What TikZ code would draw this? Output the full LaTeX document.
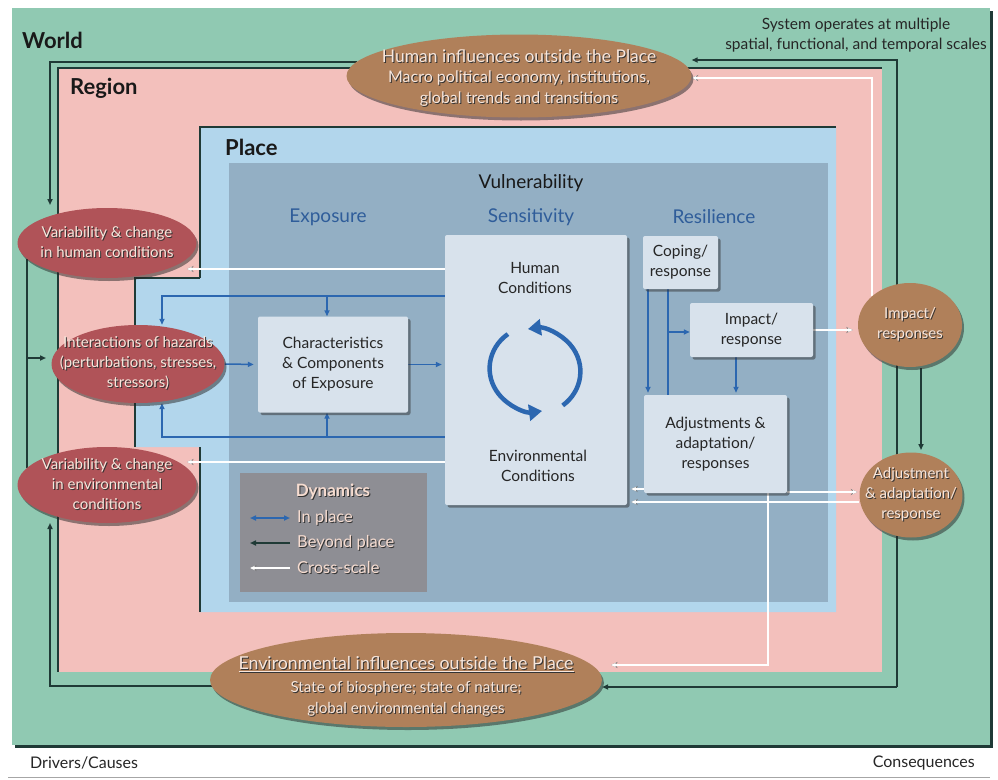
\documentclass[tikz,border=0pt]{standalone}
\usepackage{fontspec}
\setmainfont{Lato}
\usetikzlibrary{shapes.geometric,arrows.meta,shadows}

\definecolor{worldgreen}{HTML}{90C9B2}
\definecolor{regionpink}{HTML}{F3C0BC}
\definecolor{placeblue}{HTML}{B2D6EC}
\definecolor{vulnblue}{HTML}{93AFC4}
\definecolor{boxfill}{HTML}{D8E2EC}
\definecolor{brownE}{HTML}{B0805A}
\definecolor{redE}{HTML}{B05358}
\definecolor{legendgrey}{HTML}{8E8E94}
\definecolor{inblue}{HTML}{2C67B0}
\definecolor{headblue}{HTML}{2F5D9A}
\definecolor{darkline}{HTML}{1F3A36}
\definecolor{ellwhite}{HTML}{F7E6DC}
\definecolor{legtext}{HTML}{F6DCD0}

% embossed text: dark offset copy under the light one
\newcommand\emb[1]{\leavevmode\rlap{\kern1pt\raisebox{-1pt}{\color{black!80}#1}}#1}

\pgfdeclarelayer{bg}
\pgfdeclarelayer{conn}
\pgfsetlayers{bg,conn,main}

\begin{document}
\begin{tikzpicture}[x=1pt,y=-1pt,
  title/.style={anchor=west, inner sep=0pt, text=black!90, font=\bfseries\fontsize{22}{26}\selectfont},
  colhead/.style={inner sep=0pt, text=headblue, font=\fontsize{19}{22}\selectfont},
  lightbox/.style={draw=none, fill=boxfill, rounded corners=2pt, inner sep=0pt,
    drop shadow={shadow xshift=2.5pt, shadow yshift=-2.5pt, opacity=0.5, fill=black!80}},
  boxtext/.style={align=center, inner sep=0pt, text=black!85, font=\fontsize{15.5}{20}\selectfont},
  ellbase/.style={ellipse, inner sep=0pt, draw=none,
    drop shadow={shadow xshift=2pt, shadow yshift=-3pt, opacity=0.5, fill=black!85}},
  redell/.style={ellbase, fill=redE},
  brownell/.style={ellbase, fill=brownE},
  elltext/.style={align=center, inner sep=0pt, text=ellwhite, font=\fontsize{15}{20}\selectfont},
  plain/.style={inner sep=0pt, text=black!85, font=\fontsize{15.5}{20}\selectfont},
  inp/.style={draw=inblue, line width=1.5pt},
  inparrow/.style={inp, -{Triangle[length=6pt,width=5pt]}},
  beyond/.style={draw=darkline, line width=1.6pt},
  beyondarrow/.style={beyond, -{Triangle[length=6pt,width=5pt]}},
  crossarrow/.style={draw=white, line width=1.2pt, -{Stealth[length=5pt,width=4.5pt]},
    preaction={draw=black!55, line width=2.6pt, -{Stealth[length=6.5pt,width=6pt]}}},
  cycarrow/.style={draw=inblue, line width=4.5pt, -{Triangle[length=13pt,width=16pt]}}
]
\useasboundingbox (0,0) rectangle (998,779);

% ---------- nested scales ----------
\begin{pgfonlayer}{bg}
  \fill[white] (0,0) rectangle (998,779);
  \fill[darkline] (15,11) rectangle (993,748);
  \fill[worldgreen] (12,8) rectangle (990,745);
  \fill[regionpink] (58,68) rectangle (882,672);
  \draw[darkline, line width=1.5pt] (58,672) -- (58,68) -- (882,68);
  \fill[placeblue] (200,127) -- (836,127) -- (836,612) -- (200,612) -- (200,447)
    -- (135,447) -- (135,278) -- (200,278) -- cycle;
  \draw[darkline, line width=1.2pt] (200,278) -- (200,127) -- (836,127);
  \draw[darkline, line width=1.2pt] (135,447) -- (135,278) -- (200,278);
  \draw[darkline, line width=1.2pt] (200,612) -- (200,447);
  \fill[vulnblue] (229,163) rectangle (828,602);
  \draw[black!35, line width=0.6pt] (8,777) -- (990,777);
\end{pgfonlayer}

% ---------- labels ----------
\node[title] (worldlbl) at (22,40) {World};
\node[title] (regionlbl) at (70,88) {Region};
\node[title] (placelbl) at (225,147) {Place};
\node[inner sep=0pt, text=black!90, font=\fontsize{19}{22}\selectfont] (vuln) at (531,183) {Vulnerability};
\node[colhead] (exph) at (328,217) {Exposure};
\node[colhead] (senh) at (531,217) {Sensitivity};
\node[colhead] (resh) at (714,217) {Resilience};
\node[plain, align=center] (scales) at (856,35) {System operates at multiple\\spatial, functional, and temporal scales};
\node[plain, anchor=west, font=\fontsize{16}{20}\selectfont] (drivers) at (30,763) {Drivers/Causes};
\node[plain, anchor=east, font=\fontsize{16}{20}\selectfont] (conseq) at (975,763) {Consequences};

% ---------- boxes ----------
\node[lightbox, minimum width=182pt, minimum height=270pt] (sens) at (536,370) {};
\node[boxtext] (humc) at (535,278) {Human\\Conditions};
\node[boxtext] (envc) at (538,466) {Environmental\\Conditions};
\node[lightbox, minimum width=150pt, minimum height=96pt] (expo) at (333,364.5) {};
\node[boxtext] at (expo) {Characteristics\\\& Components\\of Exposure};
\node[lightbox, minimum width=75pt, minimum height=53pt] (coping) at (680.5,262.5) {};
\node[boxtext] at (coping) {Coping/\\response};
\node[lightbox, minimum width=123pt, minimum height=54pt] (impact) at (751.5,330) {};
\node[boxtext] at (impact) {Impact/\\response};
\node[lightbox, minimum width=143pt, minimum height=98pt] (adjust) at (715.5,444) {};
\node[boxtext] at (adjust) {Adjustments \&\\adaptation/\\responses};

% ---------- ellipses ----------
\node[redell, minimum width=179pt, minimum height=70pt] (varH) at (107,243) {};
\node[elltext] at (varH) {\emb{Variability \& change}\\\emb{in human conditions}};
\node[redell, minimum width=173pt, minimum height=78pt] (hazard) at (138,364) {};
\node[elltext] at (hazard) {\emb{Interactions of hazards}\\\emb{(perturbations, stresses,}\\\emb{stressors)}};
\node[redell, minimum width=179pt, minimum height=76pt] (varE) at (107,485) {};
\node[elltext] at (varE) {\emb{Variability \& change}\\\emb{in environmental}\\\emb{conditions}};

\node[brownell, minimum width=345pt, minimum height=83pt] (topE) at (519,76) {};
\node[elltext, font=\fontsize{17.5}{21}\selectfont] at (519,57) {\emb{Human influences outside the Place}};
\node[elltext, font=\fontsize{16}{21}\selectfont] at (519,89) {\emb{Macro political economy, institutions,}\\\emb{global trends and transitions}};
\node[brownell, minimum width=392pt, minimum height=94pt] (botE) at (406,680) {};
\node[elltext, font=\fontsize{17.8}{22}\selectfont] at (406,665) {\emb{\underline{Environmental influences outside the Place}}};
\node[elltext, font=\fontsize{15.2}{21}\selectfont] at (406,699) {\emb{State of biosphere; state of nature;}\\\emb{global environmental changes}};
\node[brownell, minimum width=104pt, minimum height=84pt] (impE) at (910,325) {};
\node[elltext] at (impE) {\emb{Impact/}\\\emb{responses}};
\node[brownell, minimum width=103pt, minimum height=85pt] (adjE) at (911,495) {};
\node[elltext] at (adjE) {\emb{Adjustment}\\\emb{\& adaptation/}\\\emb{response}};

% ---------- legend ----------
\fill[legendgrey] (240,473) rectangle (427,592);
\node[inner sep=0pt, text=legtext, font=\bfseries\fontsize{17}{20}\selectfont] (dyn) at (333,492) {\emb{Dynamics}};
\coordinate (lgA1) at (250,518); \coordinate (lgA2) at (290,518);
\coordinate (lgB1) at (250,543); \coordinate (lgB2) at (290,543);
\coordinate (lgC1) at (250,568); \coordinate (lgC2) at (290,568);
\draw[inp, {Triangle[length=6pt,width=5pt]}-{Triangle[length=6pt,width=5pt]}] (lgA1) -- (lgA2);
\draw[beyondarrow] (lgB2) -- (lgB1);
\draw[crossarrow] (lgC2) -- (lgC1);
\node[anchor=west, inner sep=0pt, text=legtext, font=\fontsize{16.5}{20}\selectfont] at (297,518) {\emb{In place}};
\node[anchor=west, inner sep=0pt, text=legtext, font=\fontsize{16.5}{20}\selectfont] at (297,543) {\emb{Beyond place}};
\node[anchor=west, inner sep=0pt, text=legtext, font=\fontsize{16.5}{20}\selectfont] at (297,568) {\emb{Cross-scale}};

% ---------- cycle between human and environmental conditions ----------
\begin{scope}[shift={(535,370)}, y=1pt]
  \draw[cycarrow] (127:45) arc[start angle=127, end angle=278, x radius=46, y radius=43];
  \draw[cycarrow] (-52:45) arc[start angle=-52, end angle=98, x radius=46, y radius=43];
\end{scope}

% ---------- connectors ----------
\begin{pgfonlayer}{conn}
  % in place
  \coordinate (tL) at (162,296); \coordinate (bL) at (162,437);
  \draw[inparrow] (sens.west |- tL) -- (tL) -- (hazard.north -| tL);
  \draw[inparrow] (sens.west |- bL) -- (bL) -- (hazard.south -| tL);
  \coordinate (tX) at (327,296); \coordinate (bX) at (327,437);
  \draw[inparrow] (tX) -- (expo.north -| tX);
  \draw[inparrow] (bX) -- (expo.south -| bX);
  \draw[inparrow, shorten >=4pt] (hazard.east) -- (expo.west);
  \draw[inparrow, shorten >=3pt] (expo.east) -- (sens.west |- expo.east);
  \coordinate (cA) at (648,0); \coordinate (cB) at (668,0); \coordinate (cC) at (736,0);
  \draw[inparrow, shorten >=2pt] (coping.south -| cA) -- (adjust.north -| cA);
  \draw[inp] (coping.south -| cB) -- (adjust.north -| cB);
  \coordinate (cBr) at (668,332);
  \draw[inparrow] (cBr) -- (impact.west |- cBr);
  \draw[inparrow, shorten >=2pt] (impact.south -| cC) -- (adjust.north -| cC);

  % cross-scale
  \coordinate (xh) at (187,269); \coordinate (xe) at (187,462);
  \draw[crossarrow] (sens.west |- xh) -- (xh);
  \draw[crossarrow] (sens.west |- xe) -- (xe);
  \draw[crossarrow, shorten >=5pt] (impact.east) -- (impE.west |- impact.east);
  \coordinate (xa1) at (0,492); \coordinate (xa2) at (0,502); \coordinate (xa3) at (0,489);
  \draw[crossarrow, shorten >=2pt] (adjust.east |- xa1) -- (adjE.west |- xa1);
  \draw[crossarrow, shorten >=4pt] (adjE.west |- xa2) -- (sens.east |- xa2);
  \draw[crossarrow, shorten >=4pt] (adjust.west |- xa3) -- (sens.east |- xa3);
  \coordinate (xd) at (768,665); \coordinate (xdT) at (611,665);
  \draw[crossarrow] (adjust.south -| xd) -- (xd) -- (xdT);
  \coordinate (xu) at (872,296); \coordinate (xuT) at (872,78);
  \draw[crossarrow] (xu) -- (xuT) -- (topE.east |- xuT);

  % beyond place
  \coordinate (lA) at (357,62); \coordinate (lB) at (50,62); \coordinate (lC) at (50,205);
  \draw[beyondarrow] (lA) -- (lB) -- (lC);
  \coordinate (lD) at (27,259); \coordinate (lE) at (27,468); \coordinate (lF) at (27,358); \coordinate (lG) at (46,358);
  \draw[beyond] (lD) -- (lE);
  \draw[beyondarrow] (lF) -- (lG);
  \coordinate (lH) at (212,686); \coordinate (lI) at (50,686); \coordinate (lJ) at (50,523);
  \draw[beyondarrow] (lH) -- (lI) -- (lJ);
  \coordinate (rB) at (897,687); \coordinate (rT) at (897,60);
  \draw[beyondarrow] (rB) -- (rT) -- (topE.east |- rT);
  \draw[beyondarrow] (rB) -- (botE.east |- rB);
  \coordinate (rI) at (921,368); \coordinate (rJ) at (921,450);
  \draw[beyondarrow] (rI) -- (rJ);
\end{pgfonlayer}
\end{tikzpicture}
\end{document}
